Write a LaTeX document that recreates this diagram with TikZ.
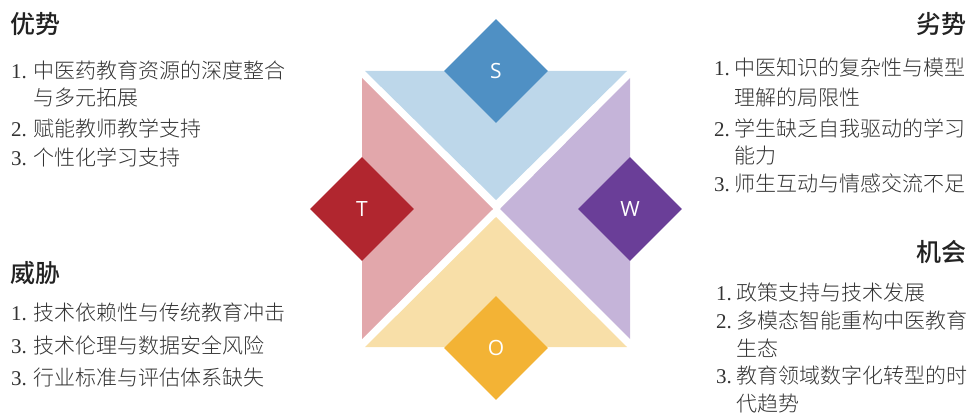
\documentclass[tikz,border=0pt]{standalone}
\usepackage{fontspec}
\setmainfont{Liberation Serif}
\newfontfamily\cjk{Noto Sans CJK SC Light}
\newfontfamily\cjkt{Noto Sans CJK SC Medium}
\newfontfamily\lat{Open Sans}
\usetikzlibrary{shapes.geometric}
\definecolor{sdark}{HTML}{4F90C4}
\definecolor{slight}{HTML}{BDD7EA}
\definecolor{tdark}{HTML}{B1262F}
\definecolor{tlight}{HTML}{E2A7AB}
\definecolor{wdark}{HTML}{6A3E98}
\definecolor{wlight}{HTML}{C5B4D9}
\definecolor{odark}{HTML}{F3B335}
\definecolor{olight}{HTML}{F8DFA8}
\definecolor{titlec}{HTML}{222222}
\definecolor{bodyc}{HTML}{333333}
\begin{document}
\begin{tikzpicture}[x=1pt,y=-1pt,
  ttl/.style={inner sep=0pt, font=\cjkt\fontsize{25}{25}\selectfont, text=titlec},
  num/.style={anchor=base west, inner sep=0pt, font=\fontsize{21}{21}\selectfont, text=bodyc},
  txt/.style={anchor=base west, inner sep=0pt, font=\cjk\fontsize{21}{21}\selectfont, text=bodyc},
  dia/.style={diamond, aspect=1, inner sep=0pt, minimum width=104pt, minimum height=104pt,
    text=white, font=\lat\fontsize{21}{21}\selectfont}]
\useasboundingbox (0,0) rectangle (969,420);
% quadrants
\fill[slight] (365,71) -- (627,71) -- (496,200) -- cycle;
\fill[tlight] (362,78) -- (362,339) -- (493,209) -- cycle;
\fill[wlight] (630,78) -- (630,339) -- (500,209) -- cycle;
\fill[olight] (365,347) -- (627,347) -- (496,217) -- cycle;
% diamonds
\node[dia, fill=sdark] (S) at (496,71) {S};
\node[dia, fill=tdark] (T) at (362,209) {T};
\node[dia, fill=wdark] (W) at (630,209) {W};
\node[dia, fill=odark] (O) at (496,348) {O};
% strengths
\node[ttl, anchor=base west] (st) at (10,34) {优势};
\node[num] (s1n) at (11,78) {1.};
\node[txt] (s1a) at (33,78) {中医药教育资源的深度整合};
\node[txt] (s1b) at (33,106) {与多元拓展};
\node[num] (s2n) at (11,136) {2.};
\node[txt] (s2) at (33,136) {赋能教师教学支持};
\node[num] (s3n) at (11,165) {3.};
\node[txt] (s3) at (33,165) {个性化学习支持};
% threats
\node[ttl, anchor=base west] (tt) at (10,282) {威胁};
\node[num] (t1n) at (11,320) {1.};
\node[txt] (t1) at (33,320) {技术依赖性与传统教育冲击};
\node[num] (t2n) at (11,353) {3.};
\node[txt] (t2) at (33,353) {技术伦理与数据安全风险};
\node[num] (t3n) at (11,385) {3.};
\node[txt] (t3) at (33,385) {行业标准与评估体系缺失};
% weaknesses
\node[ttl, anchor=base east] (wt) at (967,34) {劣势};
\node[num] (w1n) at (714,76) {1.};
\node[txt] (w1a) at (734,76) {中医知识的复杂性与模型};
\node[txt] (w1b) at (734,106) {理解的局限性};
\node[num] (w2n) at (714,136) {2.};
\node[txt] (w2a) at (734,136) {学生缺乏自我驱动的学习};
\node[txt] (w2b) at (734,163) {能力};
\node[num] (w3n) at (714,191) {3.};
\node[txt] (w3) at (734,191) {师生互动与情感交流不足};
% opportunities
\node[ttl, anchor=base east] (ot) at (967,261) {机会};
\node[num] (o1n) at (716,300) {1.};
\node[txt] (o1) at (736,300) {政策支持与技术发展};
\node[num] (o2n) at (716,328) {2.};
\node[txt] (o2a) at (736,328) {多模态智能重构中医教育};
\node[txt] (o2b) at (736,356) {生态};
\node[num] (o3n) at (716,383) {3.};
\node[txt] (o3a) at (736,383) {教育领域数字化转型的时};
\node[txt] (o3b) at (736,411) {代趋势};
\end{tikzpicture}
\end{document}
